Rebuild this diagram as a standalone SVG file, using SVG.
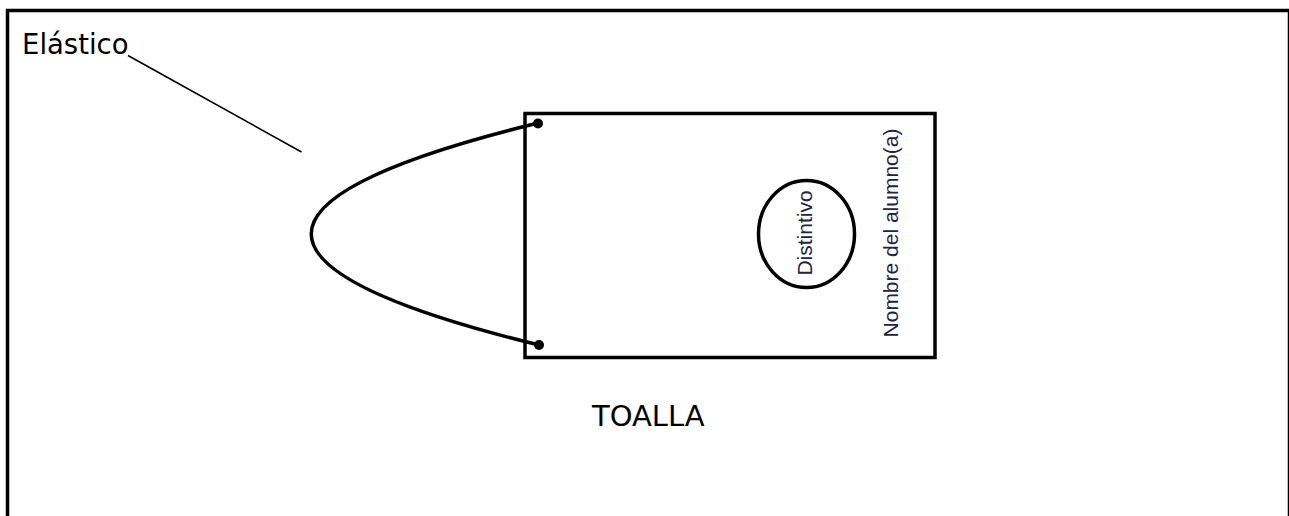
<svg xmlns="http://www.w3.org/2000/svg" width="1289" height="516" viewBox="0 0 1289 516">
<style>
.lbl{font-family:"DejaVu Sans","Verdana",sans-serif;font-size:27.5px;fill:#000}
.rot{font-family:"Liberation Sans",Arial,sans-serif;font-size:21px;fill:#222244}
.stk{fill:none;stroke:#000}
</style>
<rect width="1289" height="516" fill="#fff"/>
<g id="frame">
<path class="stk" d="M7.5,516 V10.5 H1289" stroke-width="3.5"/>
<line class="stk" x1="1288.5" y1="10" x2="1288.5" y2="516" stroke-width="1.5"/>
</g>
<g id="towel">
<rect class="stk" x="525" y="113.5" width="410" height="244" stroke-width="3.5"/>
</g>
<g id="badge">
<ellipse class="stk" cx="806.5" cy="234" rx="48" ry="53.5" stroke-width="3.5"/>
<text class="rot" transform="translate(812,233) rotate(-90)" text-anchor="middle">Distintivo</text>
</g>
<g id="name">
<text class="rot" transform="translate(898,233) rotate(-90)" text-anchor="middle">Nombre del alumno(a)</text>
</g>
<g id="elastic">
<path class="stk" d="M538,123 Q84,234 539,345" stroke-width="3.5"/>
<circle cx="538" cy="123.5" r="5"/>
<circle cx="539" cy="345" r="5"/>
</g>
<g id="labels">
<text class="lbl" x="22" y="54">Elástico</text>
<text class="lbl" x="592" y="426" style="font-size:29px">TOALLA</text>
</g>
<g id="connectors">
<line class="stk" x1="128" y1="55.5" x2="301.5" y2="152" stroke-width="1.6"/>
</g>
</svg>
